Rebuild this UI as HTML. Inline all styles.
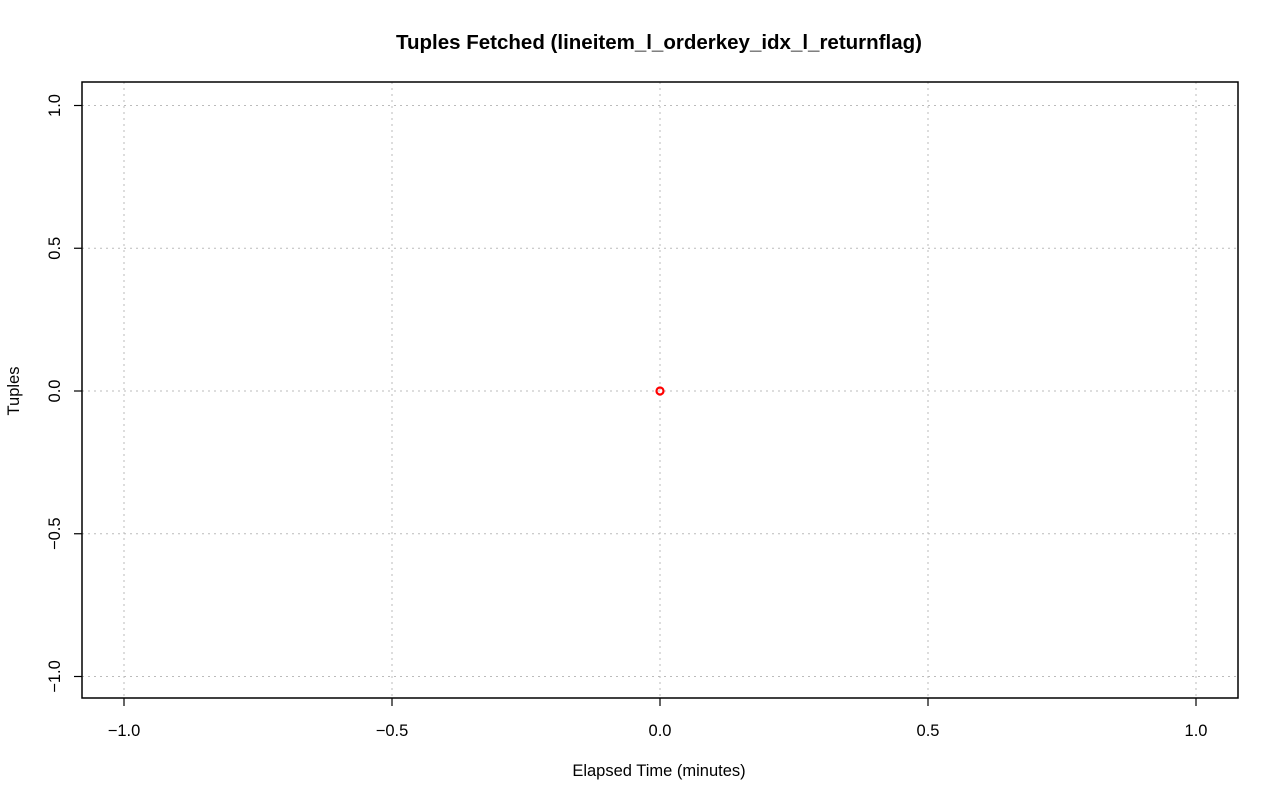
<!DOCTYPE html>
<html><head><meta charset="utf-8"><style>
html,body{margin:0;padding:0;background:#fff;}
svg{display:block;font-family:"Liberation Sans",sans-serif;}
</style></head><body>
<svg id="chart" width="1280" height="801">
<text x="659" y="49" text-anchor="middle" font-size="20.5" font-weight="bold">Tuples Fetched (lineitem_l_orderkey_idx_l_returnflag)</text>
<text x="659" y="776" text-anchor="middle" font-size="16.5">Elapsed Time (minutes)</text>
<text transform="translate(19,391) rotate(-90)" text-anchor="middle" font-size="16.5">Tuples</text>
<g id="grid"></g><g id="axes"></g><g id="marks"></g>
<rect x="82" y="82" width="1156" height="616" fill="none" stroke="#000" stroke-width="1.5"/>
</svg>
<script>
const xTicks=[-1,-0.5,0,0.5,1];
const yTicks=[-1,-0.5,0,0.5,1];
const xTickLabels=["\u22121.0","\u22120.5","0.0","0.5","1.0"];
const yTickLabels=["\u22121.0","\u22120.5","0.0","0.5","1.0"];
const seriesX=[0];
const seriesY=[0];
const NS="http://www.w3.org/2000/svg";
const sx=v=>660+v*536;
const sy=v=>391-v*285.5;
function mk(tag,attrs,parent){const e=document.createElementNS(NS,tag);for(const k in attrs)e.setAttribute(k,attrs[k]);document.getElementById(parent).appendChild(e);return e;}
xTicks.forEach((t,i)=>{
 const g=mk('line',{x1:sx(t),x2:sx(t),y1:82,y2:698,stroke:'#bbb','stroke-dasharray':'2,4'},'grid');
 
 
 const k=mk('line',{x1:sx(t),x2:sx(t),y1:698,y2:706,stroke:'#000','stroke-width':1.2},'axes');
 
 
 const l=mk('text',{x:sx(t),y:736,'text-anchor':'middle','font-size':16.5},'axes');
 l.textContent=xTickLabels[i];
 
 
});
yTicks.forEach((t,i)=>{
 const g=mk('line',{x1:82,x2:1238,y1:sy(t),y2:sy(t),stroke:'#bbb','stroke-dasharray':'2,4'},'grid');
 
 
 const k=mk('line',{x1:74,x2:82,y1:sy(t),y2:sy(t),stroke:'#000','stroke-width':1.2},'axes');
 
 
 const l=mk('text',{transform:`translate(60,${sy(t)}) rotate(-90)`,'text-anchor':'middle','font-size':16.5},'axes');
 l.textContent=yTickLabels[i];
 
 
});
seriesX.forEach((x,i)=>{
 const c=mk('circle',{cx:sx(x),cy:sy(seriesY[i]),r:3.5,fill:'none',stroke:'#f00','stroke-width':2.2},'marks');
 
 
});
</script>
</body></html>
